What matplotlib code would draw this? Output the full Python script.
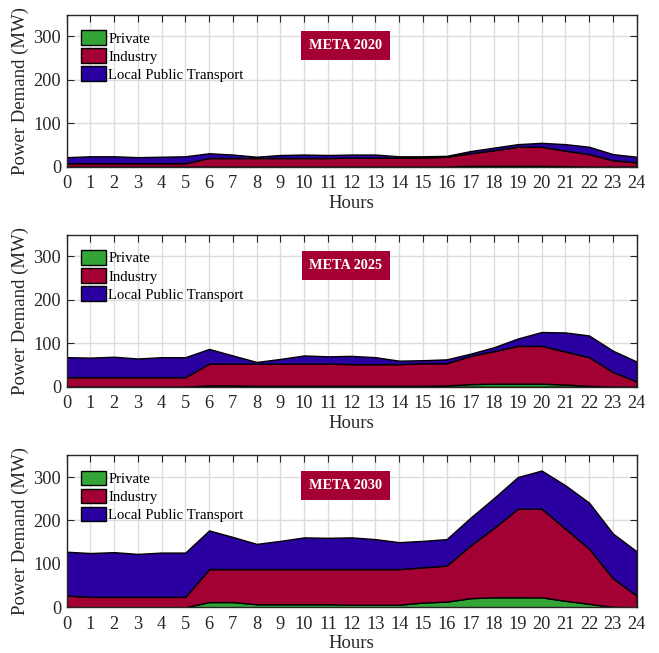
import matplotlib
matplotlib.use('Agg')
import matplotlib.pyplot as plt
from matplotlib.patches import Patch
import numpy as np

hours = list(range(25))

# MW per hour, stacked: private, industry, local public transport
private_2020 = [0, 0, 0, 0, 0, 0, 0, 0, 0, 0, 0, 0, 0, 0, 0, 0, 0, 2, 2, 2, 2, 1, 0, 0, 0]
industry_2020 = [8, 8, 8, 8, 8, 8, 20, 20, 20, 20, 20, 20, 21, 21, 21, 21, 23, 29, 36, 44, 44, 36, 29, 15, 10]
transport_2020 = [14, 16, 16, 14, 15, 16, 11, 8, 3, 7, 8, 7, 7, 7, 3, 3, 2, 5, 6, 6, 9, 15, 17, 14, 13]

private_2025 = [0, 0, 0, 0, 0, 0, 3, 3, 2, 2, 2, 2, 2, 2, 2, 2, 3, 6, 7, 7, 7, 5, 2, 0, 0]
industry_2025 = [22, 22, 22, 22, 22, 22, 50, 50, 51, 51, 51, 51, 50, 50, 50, 52, 51, 65, 75, 87, 87, 76, 66, 34, 12]
transport_2025 = [46, 45, 47, 43, 46, 46, 34, 19, 4, 11, 19, 17, 19, 16, 8, 7, 9, 5, 9, 17, 32, 44, 50, 49, 46]

private_2030 = [0, 0, 0, 0, 0, 0, 12, 12, 7, 7, 7, 7, 6, 6, 6, 11, 13, 21, 23, 23, 23, 15, 8, 1, 0]
industry_2030 = [27, 24, 24, 24, 24, 24, 76, 76, 81, 81, 81, 81, 82, 82, 82, 81, 83, 121, 160, 204, 204, 166, 127, 66, 27]
transport_2030 = [101, 101, 103, 99, 102, 102, 89, 74, 58, 65, 73, 72, 73, 69, 62, 61, 61, 64, 69, 73, 88, 100, 106, 103, 102]

scenarios = ['META 2020', 'META 2025', 'META 2030']
series_names = ['Private', 'Industry', 'Local Public Transport']
data = [
    (private_2020, industry_2020, transport_2020),
    (private_2025, industry_2025, transport_2025),
    (private_2030, industry_2030, transport_2030),
]

colors = ['#33a537', '#a30034', '#2a00a0']
badge = '#a50034'

plt.rcParams['font.family'] = ['Liberation Serif', 'DejaVu Serif']

fig = plt.figure(figsize=(6.59, 6.53), dpi=100)
bottoms = [0.7447, 0.4078, 0.070]

for i, (title, series) in enumerate(zip(scenarios, data)):
    ax = fig.add_axes([0.101, bottoms[i], 0.865, 0.2327])
    ax.stackplot(hours, *[np.array(s) for s in series], colors=colors,
                 edgecolor='black', linewidth=1.0, zorder=2)
    ax.set_xlim(0, 24)
    ax.set_ylim(0, 350)
    ax.set_xticks(hours)
    ax.set_yticks([0, 100, 200, 300])
    ax.grid(True, color='#dcdcdc', linewidth=1.0, zorder=0)
    ax.set_axisbelow(True)
    ax.tick_params(direction='in', top=True, right=True, labelsize=13.2,
                   length=5, width=0.8, colors='#262626')
    ax.tick_params(axis='x', pad=6)
    ax.tick_params(axis='y', pad=4)
    for sp in ax.spines.values():
        sp.set_color('#262626')
        sp.set_linewidth(1.0)
    ax.set_xlabel('Hours', fontsize=13.5, color='#262626', labelpad=2)
    ax.set_ylabel('Power Demand (MW)', fontsize=13.5, color='#262626', labelpad=3)

    handles = [Patch(facecolor=c, edgecolor='black', linewidth=1.0) for c in colors]
    ax.legend(handles, series_names, loc='upper left', bbox_to_anchor=(0.01, 0.955),
              frameon=False, fontsize=10.6, handlelength=1.7, handleheight=1.1,
              handletextpad=0.15, labelspacing=0.2, borderaxespad=0.2)

    ax.text(0.49, 0.80, title, transform=ax.transAxes, ha='center', va='center',
            fontsize=10.3, fontweight='bold', color='white', zorder=5,
            bbox=dict(boxstyle='square,pad=0.55', facecolor=badge, edgecolor='none'))

fig.savefig('out.png', dpi=100, facecolor='white')
